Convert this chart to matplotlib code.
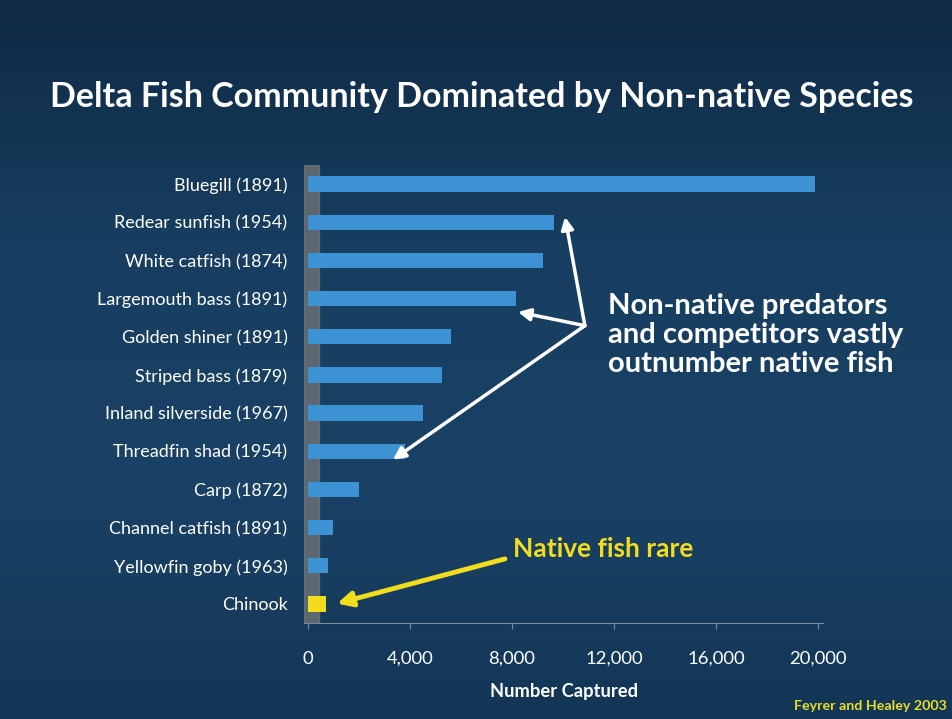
import numpy as np
import matplotlib
matplotlib.use("Agg")
import matplotlib.pyplot as plt

# Species and number captured
species = ["Bluegill (1891)", "Redear sunfish (1954)", "White catfish (1874)",
           "Largemouth bass (1891)", "Golden shiner (1891)", "Striped bass (1879)",
           "Inland silverside (1967)", "Threadfin shad (1954)", "Carp (1872)",
           "Channel catfish (1891)", "Yellowfin goby (1963)", "Chinook"]
captured = [19900, 9650, 9200, 8150, 5600, 5250, 4500, 3800, 2000, 980, 800, 700]
native = [False] * 11 + [True]
xticks = [0, 4000, 8000, 12000, 16000, 20000]

plt.rcParams['font.family'] = ['Lato', 'DejaVu Sans']

fig = plt.figure(figsize=(9.52, 7.19), dpi=100)

# background: dark blue slide with a soft vertical gradient
bg = fig.add_axes([0, 0, 1, 1], zorder=-10)
grad = np.linspace(0, 1, 256).reshape(-1, 1)
cmap = matplotlib.colors.LinearSegmentedColormap.from_list(
    "slide", ["#0f2a44", "#173e60", "#1a4266", "#133656"])
bg.imshow(grad, aspect="auto", cmap=cmap, extent=[0, 1, 0, 1])
bg.axis("off")

ax = fig.add_axes([0.3195, 0.1335, 0.545, 0.637])
ax.set_facecolor("none")

y = np.arange(len(species))
colors = ["#f2dc1e" if n else "#3d92d4" for n in native]
ax.barh(y, captured, height=0.4, color=colors, zorder=3)

# grey 3-D style wall behind the bars
ax.axvspan(-150, 450, color="#7a7a78", alpha=0.7, zorder=1)

ax.set_xlim(-150, 20200)
ax.set_ylim(len(species) - 0.5, -0.5)
ax.set_yticks(y)
ax.set_yticklabels(species, color="white", fontsize=13)
ax.set_xticks(xticks)
ax.set_xticklabels([f"{v:,}" for v in xticks], color="white", fontsize=13.3)
ax.tick_params(axis="y", length=0, pad=12)
ax.tick_params(axis="x", length=4, color="#7a8a98", pad=16)
for s in ["top", "right", "left"]:
    ax.spines[s].set_visible(False)
ax.spines["bottom"].set_color("#7a8a98")
ax.set_xlabel("Number Captured", color="white", fontsize=13.2, fontweight="bold",
              labelpad=12)

# annotations
ax.text(11750, 3.95, "Non-native predators\nand competitors vastly\noutnumber native fish",
        color="white", fontsize=21, fontweight="bold", va="center", ha="left",
        linespacing=1.15)
src = (10860, 3.71)
for tgt in [(10080, 0.86), (8235, 3.35), (3330, 7.22)]:
    ax.annotate("", xy=tgt, xytext=src, annotation_clip=False,
                arrowprops=dict(arrowstyle="-|>", color="white", lw=2.5,
                                mutation_scale=18, shrinkA=0, shrinkB=0))

ax.text(8050, 9.56, "Native fish rare", color="#f2dc1e", fontsize=19,
        fontweight="bold", va="center", ha="left")
ax.annotate("", xy=(1140, 10.99), xytext=(7725, 9.82), annotation_clip=False,
            arrowprops=dict(arrowstyle="-|>", color="#f2dc1e", lw=3.5,
                            mutation_scale=22, shrinkA=0, shrinkB=0))

fig.text(0.506, 0.865, "Delta Fish Community Dominated by Non-native Species",
         color="white", fontsize=24.5, fontweight="bold", ha="center", va="center")
fig.text(0.995, 0.018, "Feyrer and Healey 2003", color="#e8dc2a", fontsize=10.3,
         fontweight="bold", ha="right", va="center")

fig.savefig("out.png", dpi=100)
